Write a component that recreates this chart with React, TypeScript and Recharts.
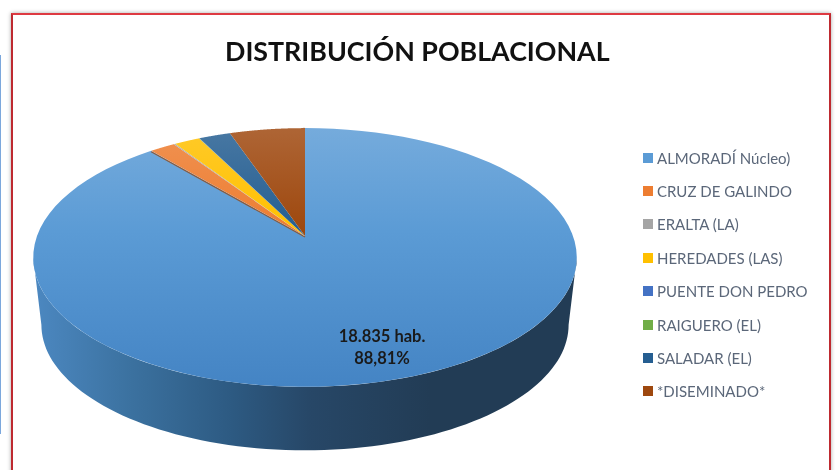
import { Legend, Pie, PieChart } from "recharts";

const categories = [
  "ALMORADÍ Núcleo)",
  "CRUZ DE GALINDO",
  "ERALTA (LA)",
  "HEREDADES (LAS)",
  "PUENTE DON PEDRO",
  "RAIGUERO (EL)",
  "SALADAR (EL)",
  "*DISEMINADO*",
];
const inhabitants = [18835, 380, 21, 380, 4, 4, 470, 1114];
const colors = ["#5B9BD5", "#ED7D31", "#A5A5A5", "#FFC000", "#4472C4", "#70AD47", "#255E91", "#9E480E"];

const total = inhabitants.reduce((a, b) => a + b, 0);
const data = categories.map((name, i) => ({
  name,
  value: inhabitants[i],
  fill: `url(#top-${i})`,
}));

// tilt of the 3D pie: the rim is a circle seen through a simple perspective
const K = 0.166;
const SQUASH = 0.4694;
const DEPTH_DY = 68;
const DEPTH_SCALE = 0.97;

function rim(cx: number, cy: number, r: number, deg: number, bottom = false) {
  const a = (deg * Math.PI) / 180;
  const u = Math.cos(a);
  const v = -Math.sin(a);
  const w = 1 / (1 - K * v);
  const s = bottom ? DEPTH_SCALE : 1;
  return [cx + r * s * u * w, cy + (bottom ? DEPTH_DY : 0) + r * s * SQUASH * v * w];
}

function steps(from: number, to: number, n = 90) {
  return Array.from({ length: n + 1 }, (_, i) => from + ((to - from) * i) / n);
}

const toPath = (pts: number[][]) =>
  pts.map((p, i) => `${i ? "L" : "M"}${p[0].toFixed(2)} ${p[1].toFixed(2)}`).join(" ") + " Z";

function lighten(hex: string, t: number) {
  const n = parseInt(hex.slice(1), 16);
  const ch = [n >> 16, (n >> 8) & 255, n & 255].map((c) => Math.round(c + (255 - c) * t));
  return `rgb(${ch.join(",")})`;
}

function Slice3D(props: any) {
  const { cx, cy, outerRadius: r, startAngle, endAngle, fill, name } = props;
  const isMain = name === categories[0];
  const tangent = (Math.asin(K) * 180) / Math.PI;
  const front = steps(-tangent, -180 + tangent);
  const wall = [
    ...front.map((d) => rim(cx, cy, r, d)),
    ...[...front].reverse().map((d) => rim(cx, cy, r, d, true)),
  ];
  const face = [[cx, cy], ...steps(startAngle, endAngle).map((d) => rim(cx, cy, r, d))];
  const s = rim(cx, cy, r, startAngle);
  const e = rim(cx, cy, r, endAngle);
  return (
    <g>
      {isMain && <path d={toPath(wall)} fill="url(#wall)" />}
      <path d={toPath(face)} fill={fill} />
      {isMain && (
        <>
          <line x1={cx - 1} y1={cy} x2={s[0] - 1} y2={s[1] - 1} stroke="#ECE7E2" strokeWidth={1.6} />
          <line x1={cx} y1={cy + 1} x2={e[0]} y2={e[1] + 1} stroke="#8A5A3C" strokeWidth={1.2} />
        </>
      )}
    </g>
  );
}

function mainLabel(props: any) {
  if (props.name !== categories[0]) return null;
  const pct = ((props.value / total) * 100).toFixed(2).replace(".", ",");
  const hab = props.value.toLocaleString("de-DE");
  return (
    <text textAnchor="middle" fontFamily="Lato" fontWeight={700} fontSize={16.5} fill="#1a1a1a">
      <tspan x={382} y={342}>{`${hab} hab.`}</tspan>
      <tspan x={382} y={364}>{`${pct}%`}</tspan>
    </text>
  );
}

function LegendList() {
  return (
    <div style={{ fontFamily: "Lato", fontSize: 15, color: "#5B6779" }}>
      {categories.map((name, i) => (
        <div key={name} style={{ height: 33.4, display: "flex", alignItems: "center", whiteSpace: "nowrap" }}>
          <span style={{ width: 10, height: 10, background: colors[i], marginRight: 4, flex: "none" }} />
          {name}
        </div>
      ))}
    </div>
  );
}

export default function App() {
  return (
    <div
      style={{
        position: "absolute",
        left: 0,
        top: 0,
        width: 835,
        height: 470,
        overflow: "hidden",
        background: "#fff",
        filter: "blur(0.4px)",
      }}
    >
      <div style={{ position: "absolute", left: 0, top: 55, width: 1, height: 379, background: "#7BA7DC" }} />
      <div
        style={{
          position: "absolute",
          left: 11,
          top: 13,
          width: 816,
          height: 480,
          border: "2px solid #BE2A30",
          borderTopColor: "#DE3A42",
          boxShadow: "0 0 4px rgba(0,0,0,0.35)",
          background: "#fff",
        }}
      />
      <div
        style={{
          position: "absolute",
          left: 225,
          top: 33,
          whiteSpace: "nowrap",
          fontFamily: "Lato",
          fontWeight: 700,
          fontSize: 26.8,
          color: "#111",
          lineHeight: "36px",
        }}
      >
        DISTRIBUCIÓN POBLACIONAL
      </div>
      <div style={{ position: "absolute", left: 0, top: 0 }}>
        <PieChart width={835} height={470} margin={{ top: 0, right: 0, bottom: 0, left: 0 }}>
          <defs>
            {colors.map((c, i) => (
              <linearGradient key={c} id={`top-${i}`} gradientUnits="userSpaceOnUse" x1="0" y1="128" x2="0" y2="387">
                <stop offset="0%" stopColor={lighten(c, 0.16)} />
                <stop offset="40%" stopColor={c} />
                <stop offset="100%" stopColor="#4484C4" />
              </linearGradient>
            ))}
            <linearGradient id="wall" gradientUnits="userSpaceOnUse" x1="33" y1="0" x2="430" y2="0">
              <stop offset="0%" stopColor="#4C88C1" />
              <stop offset="25%" stopColor="#3B719F" />
              <stop offset="50%" stopColor="#2D5A82" />
              <stop offset="70%" stopColor="#274767" />
              <stop offset="100%" stopColor="#223C55" />
            </linearGradient>
          </defs>
          <Pie
            data={data}
            dataKey="value"
            nameKey="name"
            cx={305}
            cy={236}
            outerRadius={268}
            startAngle={90}
            endAngle={-270}
            stroke="none"
            label={mainLabel}
            labelLine={false}
            shape={Slice3D}
            isAnimationActive={false}
          />
          <Legend content={<LegendList />} wrapperStyle={{ position: "absolute", left: 643, top: 141, width: 190 }} />
        </PieChart>
      </div>
    </div>
  );
}
